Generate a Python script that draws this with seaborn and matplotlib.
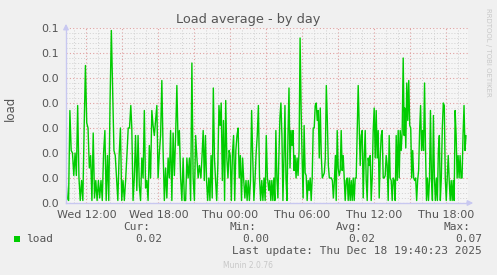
import numpy as np
import pandas as pd
import matplotlib
matplotlib.use("Agg")
import matplotlib.pyplot as plt
import matplotlib.dates as mdates
from matplotlib.ticker import FormatStrFormatter, MultipleLocator
import seaborn as sns

# ---- data (load average, in six consecutive stretches) ----
load_a = [.009,.002,.001,.037,.021,.020,.011,.020,.011,.039,.010,.001,.009,.001,.030,.055,.032,.030,.014,.019,
          .001,.028,.002,.009,.001,.009,.002,.009,.001,.020,.029,.001,.019,.001,.041,.069,.045,.021,.019,.010,
          .001,.019,.030,.001,.009,.001,.009,.019,.030,.030,.039]
load_b = [.030,.001,.010,.027,.005,.027,.007,.001,.018,.010,.037,.006,.009,.001,.023,.010,.037,.031,.027,.033,
          .039,.010,.020,.027,.049,.021,.001,.014,.002,.018,.010,.029,.001,.028,.011,.027,.047,.023,.029,.010,
          .001,.018,.001,.001,.018,.010,.018,.001,.056,.010,.001,.027,.018,.010,.015]
load_c = [.014,.010,.019,.029,.009,.027,.009,.001,.010,.001,.019,.002,.046,.018,.009,.001,.015,.039,.031,.040,
          .009,.033,.001,.041,.018,.010,.021,.019,.001,.020,.027,.001,.021,.027,.030,.010,.019,.001,.018,.009,
          .002,.009,.001,.009,.001,.009,.037,.018,.001,.009,.020,.027,.039,.010,.001,.009,.001,.010,.001,.027,.010]
load_d = [.009,.005,.009,.001,.009,.001,.010,.001,.029,.010,.002,.019,.034,.040,.027,.001,.018,.039,.010,.001,
          .027,.046,.014,.029,.023,.029,.013,.019,.010,.018,.011,.021,.066,.038,.018,.002,.031,.012,.011,.001,
          .009,.005,.010,.001,.010,.030,.030,.039,.040,.033,.037,.018,.038,.019,.010,.011,.012,.018,.047,.033,
          .015,.010,.010,.010,.009,.002,.009,.019]
load_e = [.001,.029,.014,.011,.013,.029,.013,.019,.010,.001,.009,.010,.001,.010,.001,.009,.001,.010,.001,.010,
          .010,.029,.047,.031,.015,.027,.029,.002,.018,.029,.009,.001,.018,.015,.019,.001,.010,.029,.038,.018,
          .037,.018,.029,.002,.018,.027,.029,.010,.010,.011,.019,.015,.001,.027,.010,.009,.001,.010,.009,.001,
          .027,.009,.029,.010,.029,.021,.029,.058,.027]
load_f = [.038,.022,.048,.033,.049,.031,.030,.010,.021,.010,.009,.010,.001,.009,.013,.029,.039,.021,.029,.021,
          .048,.021,.001,.010,.001,.009,.037,.010,.001,.035,.010,.001,.010,.001,.021,.027,.001,.010,.030,.040,
          .039,.010,.001,.010,.019,.009,.001,.009,.001,.009,.001,.037,.027,.010,.019,.010,.019,.010,.010,.027,
          .039,.021,.027]
segments = [load_a, load_b, load_c, load_d, load_e, load_f]
# first / last sample time of each stretch
seg_start = ["2025-12-17 10:18", "2025-12-17 15:47", "2025-12-17 21:27",
             "2025-12-18 03:07", "2025-12-18 08:49", "2025-12-18 14:32"]
seg_end = ["2025-12-17 15:42", "2025-12-17 21:25", "2025-12-18 03:05",
           "2025-12-18 08:45", "2025-12-18 14:29", "2025-12-18 19:38"]

axis_start = "2025-12-17 10:18"
axis_end = "2025-12-18 19:48"

title = "Load average - by day"
ylabel = "load"
legend_name = "load"
stat_cur, stat_min, stat_avg, stat_max = "0.02", "0.00", "0.02", "0.07"
last_update = "Last update: Thu Dec 18 19:40:23 2025"

frames = []
for vals, s, e in zip(segments, seg_start, seg_end):
    frames.append(pd.DataFrame({"time": pd.date_range(s, e, periods=len(vals)), "load": vals}))
df = pd.concat(frames, ignore_index=True)

# ---- style ----
sns.set_theme(style="white")
plt.rcParams["font.family"] = ["DejaVu Sans"]
BG = "#F0F0F0"
CANVAS = "#F5F5F5"
TXT = "#555555"
GREEN = "#00CC00"
AXIS = "#C8C8F0"

fig = plt.figure(figsize=(4.97, 2.75), dpi=100, facecolor=BG)
ax = fig.add_axes([66/497, 1-203/275, (468-66)/497, (203-28)/275])
ax.set_facecolor(CANVAS)

sns.lineplot(data=df, x="time", y="load", ax=ax, color=GREEN, linewidth=1.0, legend=False)

ax.set_xlim(pd.Timestamp(axis_start), pd.Timestamp(axis_end))
ax.set_ylim(0, 0.07)

# grids
ax.yaxis.set_major_locator(MultipleLocator(0.01))
ax.yaxis.set_minor_locator(MultipleLocator(0.002))
ax.yaxis.set_major_formatter(FormatStrFormatter("%.1f"))
ax.xaxis.set_major_locator(mdates.HourLocator(byhour=range(0, 24, 3)))
ax.xaxis.set_minor_locator(mdates.HourLocator())
ax.grid(which="minor", color="#D0D0D0", linestyle=(0, (1, 2)), linewidth=0.7)
ax.grid(which="major", color="#E0A0A0", linestyle=(0, (1, 2)), linewidth=0.8)
ax.set_axisbelow(True)

def fmt(x, pos=None):
    d = mdates.num2date(x)
    if d.hour % 6 == 0:
        return d.strftime("%a %H:%M")
    return ""
ax.xaxis.set_major_formatter(plt.FuncFormatter(fmt))
ax.tick_params(axis="both", which="major", labelsize=8, colors=TXT, length=3, width=0.8, pad=2)
ax.tick_params(axis="x", which="major", color="#E0A0A0")
ax.tick_params(axis="y", which="major", color="#E0A0A0")
ax.tick_params(which="minor", length=0)

for s in ["top", "right"]:
    ax.spines[s].set_visible(False)
for s in ["left", "bottom"]:
    ax.spines[s].set_color(AXIS)
    ax.spines[s].set_linewidth(1.0)

ax.set_xlabel("")
ax.set_ylabel("")

# axis arrows
ax.annotate("", xy=(0, 1.04), xytext=(0, 0.98), xycoords="axes fraction",
            arrowprops=dict(arrowstyle="-|>", color=AXIS, lw=1, mutation_scale=8), annotation_clip=False)
ax.annotate("", xy=(1.02, 0), xytext=(0.99, 0), xycoords="axes fraction",
            arrowprops=dict(arrowstyle="-|>", color=AXIS, lw=1, mutation_scale=8), annotation_clip=False)

# title and labels
fig.text(248/497, 1-19/275, title, ha="center", va="center", fontsize=9.3, color=TXT)
fig.text(10/497, 1-108/275, ylabel, ha="center", va="center", rotation=90, fontsize=8.5, color=TXT)
fig.text(488/497, 1-52/275, "RRDTOOL / TOBI OETIKER", ha="center", va="center", rotation=270,
         fontsize=5, color="#C8C8C8")

# legend block
mono = dict(family="DejaVu Sans Mono", fontsize=8, color=TXT, va="center")
fig.patches.append(plt.Rectangle((14/497, 1-242/275), 6/497, 6/275, transform=fig.transFigure,
                                 facecolor=GREEN, edgecolor="none"))
fig.text(26/497, 1-239/275, legend_name, ha="left", **mono)
for lab, val, xr in [("Cur:", stat_cur, 150), ("Min:", stat_min, 257),
                     ("Avg:", stat_avg, 363), ("Max:", stat_max, 470)]:
    fig.text(xr/497, 1-227/275, lab, ha="right", **mono)
    fig.text((xr+12)/497, 1-239/275, val, ha="right", **mono)
fig.text(482/497, 1-251/275, last_update, ha="right", **mono)
fig.text(248/497, 1-265/275, "Munin 2.0.76", ha="center", va="center", fontsize=5.5, color="#C8C8C8")

fig.savefig("out.png", dpi=100, facecolor=BG)
